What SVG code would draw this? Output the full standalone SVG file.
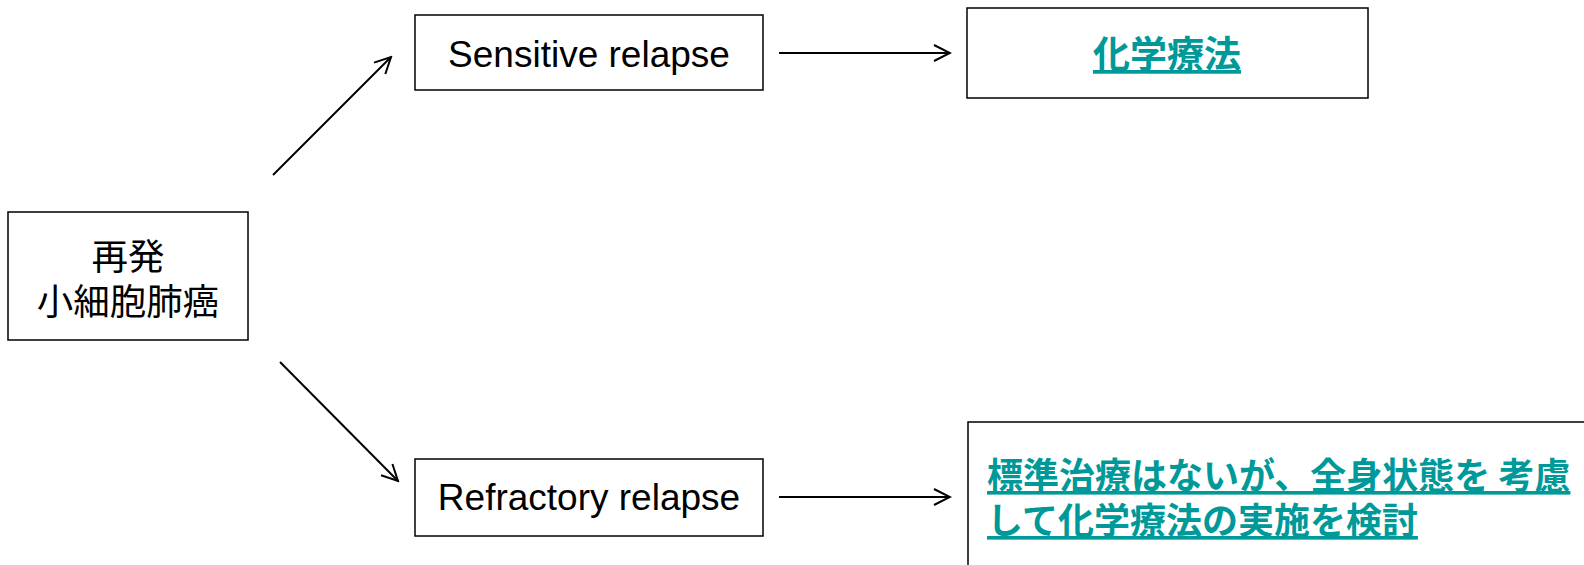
<svg xmlns="http://www.w3.org/2000/svg" width="1584" height="565" viewBox="0 0 1584 565">
<defs>
<marker id="arr" viewBox="0 0 20 20" refX="18" refY="10" markerWidth="20" markerHeight="20" markerUnits="userSpaceOnUse" orient="auto">
<path d="M2,2 L18,10 L2,18" fill="none" stroke="#000" stroke-width="2"/>
</marker>
<style>
.box{fill:#fff;stroke:#000;stroke-width:1.5}
.t{font-family:"Liberation Sans",Arial,"Noto Sans CJK JP",sans-serif;font-size:37px;fill:#000}
.j{font-family:"Noto Sans CJK JP",sans-serif;font-size:36.5px;fill:#000}
.lk{font-family:"Noto Sans CJK JP",sans-serif;font-weight:bold;fill:#009999;text-decoration:underline}
.c{fill:none;stroke:#000;stroke-width:2;marker-end:url(#arr)}
</style>
</defs>
<rect width="1584" height="565" fill="#fff"/>
<g id="connectors">
<line class="c" x1="273" y1="175" x2="391" y2="57"/>
<line class="c" x1="280" y1="362" x2="398" y2="481"/>
<line class="c" x1="779" y1="53" x2="950" y2="53"/>
<line class="c" x1="779" y1="497" x2="950" y2="497"/>
</g>
<g id="relapse">
<rect class="box" x="8" y="212" width="240" height="128"/>
<text class="j" x="128" y="270" text-anchor="middle">再発</text>
<text class="j" x="128" y="315" text-anchor="middle">小細胞肺癌</text>
</g>
<g id="sensitive">
<rect class="box" x="415" y="15" width="348" height="75"/>
<text class="t" x="589" y="67" text-anchor="middle">Sensitive relapse</text>
</g>
<g id="refractory">
<rect class="box" x="415" y="459" width="348" height="77"/>
<text class="t" x="589" y="510" text-anchor="middle">Refractory relapse</text>
</g>
<g id="chemo">
<rect class="box" x="967" y="8" width="401" height="90"/>
<text class="lk" x="1167" y="68" text-anchor="middle" font-size="37">化学療法</text>
</g>
<g id="consider">
<rect class="box" x="968" y="422" width="700" height="200"/>
<text class="lk" x="987" y="489" font-size="36">標準治療はないが、全身状態を 考慮</text>
<text class="lk" x="987" y="534" font-size="36">して化学療法の実施を検討</text>
</g>
</svg>
